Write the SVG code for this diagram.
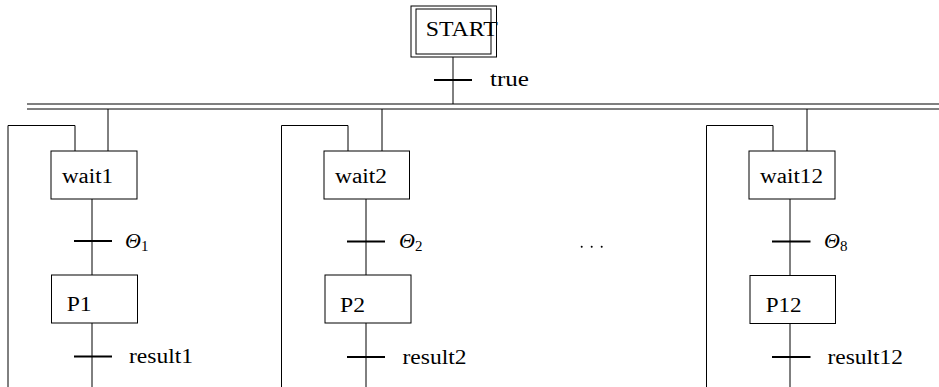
<svg xmlns="http://www.w3.org/2000/svg" width="939" height="387" viewBox="0 0 939 387">
<style>
.ln{stroke:#000;stroke-width:1;fill:none}
.bx{stroke:#000;stroke-width:1;fill:#fff}
.bar{stroke:#000;stroke-width:2.2}
text{font-family:'Liberation Serif','DejaVu Serif',serif;font-size:20px;fill:#000}
.it{font-style:italic;font-size:22px}
.sub{font-size:15px;font-style:normal}
</style>
<rect width="939" height="387" fill="#fff"/>
<g id="connectors">
  <line class="ln" x1="453" y1="57" x2="453" y2="104"/>
  <line class="bar" x1="434" y1="80" x2="472" y2="80"/>
  <line class="ln" x1="27" y1="104" x2="939" y2="104"/>
  <line class="ln" x1="27" y1="109" x2="939" y2="109"/>
  <line class="ln" x1="108" y1="109" x2="108" y2="151"/>
  <polyline class="ln" points="8,387 8,125.5 75,125.5 75,151"/>
  <line class="ln" x1="92" y1="199" x2="92" y2="275"/>
  <line class="bar" x1="74" y1="241" x2="112" y2="241"/>
  <line class="ln" x1="92" y1="323" x2="92" y2="387"/>
  <line class="bar" x1="74" y1="356.5" x2="112" y2="356.5"/>
  <line class="ln" x1="382" y1="109" x2="382" y2="151"/>
  <polyline class="ln" points="281.5,387 281.5,125.5 348,125.5 348,151"/>
  <line class="ln" x1="366" y1="199" x2="366" y2="275"/>
  <line class="bar" x1="347" y1="241.5" x2="385" y2="241.5"/>
  <line class="ln" x1="366" y1="323" x2="366" y2="387"/>
  <line class="bar" x1="347" y1="357" x2="385" y2="357"/>
  <line class="ln" x1="807" y1="109" x2="807" y2="151"/>
  <polyline class="ln" points="706.5,387 706.5,125.5 773,125.5 773,151"/>
  <line class="ln" x1="790" y1="199" x2="790" y2="275"/>
  <line class="bar" x1="772" y1="241.5" x2="810.5" y2="241.5"/>
  <line class="ln" x1="790" y1="323" x2="790" y2="387"/>
  <line class="bar" x1="772" y1="357" x2="810.5" y2="357"/>
</g>
<g id="labels">
  <text x="490" y="86" textLength="39" lengthAdjust="spacingAndGlyphs">true</text>
  <text class="it" x="125" y="247.5">Θ<tspan class="sub" dy="3">1</tspan></text>
  <text class="it" x="399" y="248">Θ<tspan class="sub" dy="3">2</tspan></text>
  <text class="it" x="824" y="248">Θ<tspan class="sub" dy="3">8</tspan></text>
  <text x="129" y="363" textLength="64" lengthAdjust="spacingAndGlyphs">result1</text>
  <text x="402.5" y="364" textLength="64" lengthAdjust="spacingAndGlyphs">result2</text>
  <text x="827.5" y="364" textLength="75.5" lengthAdjust="spacingAndGlyphs">result12</text>
  <g id="ellipsis" fill="#000">
    <circle cx="581.7" cy="246.7" r="1"/>
    <circle cx="591.7" cy="246.7" r="1"/>
    <circle cx="601.7" cy="246.7" r="1"/>
  </g>
</g>
<g id="start">
  <rect class="bx" x="411" y="6" width="85.5" height="51"/>
  <rect class="bx" x="416" y="9" width="75" height="45"/>
  <text x="425.7" y="36" textLength="72" lengthAdjust="spacingAndGlyphs">START</text>
</g>
<g id="wait1">
  <rect class="bx" x="51" y="151" width="86" height="48"/>
  <text x="62" y="182.5" textLength="51" lengthAdjust="spacingAndGlyphs">wait1</text>
</g>
<g id="p1">
  <rect class="bx" x="51.5" y="275" width="86" height="48"/>
  <text x="66.7" y="311" textLength="25" lengthAdjust="spacingAndGlyphs">P1</text>
</g>
<g id="wait2">
  <rect class="bx" x="324" y="151" width="85.5" height="48"/>
  <text x="335" y="183" textLength="52" lengthAdjust="spacingAndGlyphs">wait2</text>
</g>
<g id="p2">
  <rect class="bx" x="325" y="275" width="86" height="48"/>
  <text x="340" y="311.5" textLength="25" lengthAdjust="spacingAndGlyphs">P2</text>
</g>
<g id="wait12">
  <rect class="bx" x="749" y="151" width="86" height="48"/>
  <text x="760" y="183" textLength="63" lengthAdjust="spacingAndGlyphs">wait12</text>
</g>
<g id="p12">
  <rect class="bx" x="750" y="275.5" width="85.5" height="48"/>
  <text x="765.7" y="311.5" textLength="36" lengthAdjust="spacingAndGlyphs">P12</text>
</g>
</svg>
